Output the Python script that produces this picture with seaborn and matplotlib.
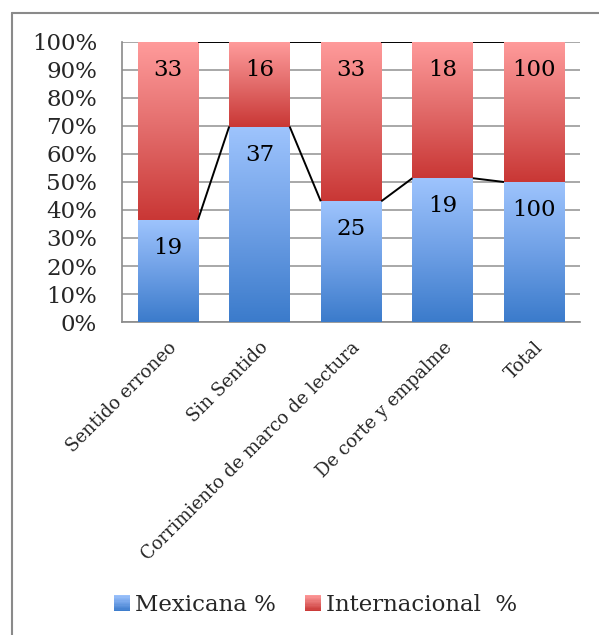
import numpy as np
import pandas as pd
import matplotlib
matplotlib.use("Agg")
import matplotlib.pyplot as plt
import matplotlib.transforms as mtransforms
import seaborn as sns
from matplotlib.colors import LinearSegmentedColormap
from matplotlib.lines import Line2D
from matplotlib.patches import Rectangle
from matplotlib.legend_handler import HandlerBase

# --- data -------------------------------------------------------------
categories = ["Sentido erroneo", "Sin Sentido", "Corrimiento de marco de lectura",
              "De corte y empalme", "Total"]
mexicana = [19, 37, 25, 19, 100]
internacional = [33, 16, 33, 18, 100]
y_ticks = list(range(0, 101, 10))
series_names = ["Mexicana %", "Internacional  %"]

df = pd.DataFrame({"categoria": categories,
                   "mexicana": mexicana,
                   "internacional": internacional})
df["total"] = df["mexicana"] + df["internacional"]
df["mex_pct"] = df["mexicana"] / df["total"] * 100
df["full"] = 100.0

# --- style ------------------------------------------------------------
sns.set_theme(style="white")
plt.rcParams["font.family"] = ["DejaVu Serif"]

blue_cmap = LinearSegmentedColormap.from_list("azul", ["#3b7bcb", "#6fa0e6", "#9ec4fd"])
red_cmap = LinearSegmentedColormap.from_list("rojo", ["#c93735", "#e26b6a", "#ff9b9b"])
grad = np.linspace(0, 1, 256).reshape(-1, 1)

fig = plt.figure(figsize=(5.99, 6.35), dpi=100)
ax = fig.add_axes([0.2037, 0.4929, 0.7646, 0.441])

bar_w = 0.66
sns.barplot(data=df, x="categoria", y="full", color="#e06060", width=bar_w,
            ax=ax, zorder=2)
sns.barplot(data=df, x="categoria", y="mex_pct", color="#6a9be0", width=bar_w,
            ax=ax, zorder=3)

n = len(df)
red_bars = ax.patches[:n]
blue_bars = ax.patches[n:2 * n]


def fill_gradient(patch, y0, y1, cmap, z):
    x0 = patch.get_x()
    x1 = x0 + patch.get_width()
    im = ax.imshow(grad, cmap=cmap, origin="lower", aspect="auto",
                   extent=[x0, x1, y0, y1], zorder=z, interpolation="bilinear")
    im.set_clip_path(patch)
    patch.set_facecolor("none")
    patch.set_edgecolor("none")


for i, (rp, bp) in enumerate(zip(red_bars, blue_bars)):
    pct = df["mex_pct"].iloc[i]
    fill_gradient(rp, pct, 100, red_cmap, 2)
    fill_gradient(bp, 0, pct, blue_cmap, 3)

# series lines joining the segments of neighbouring bars
for i in range(n - 1):
    xa = blue_bars[i].get_x() + blue_bars[i].get_width()
    xb = blue_bars[i + 1].get_x()
    ax.plot([xa, xb], [df["mex_pct"].iloc[i], df["mex_pct"].iloc[i + 1]],
            color="black", lw=1.4, zorder=5, solid_capstyle="butt")
    ax.plot([xa, xb], [100, 100], color="black", lw=1.4, zorder=5,
            solid_capstyle="butt")

# value labels near the top of each segment
for i in range(n):
    cx = blue_bars[i].get_x() + blue_bars[i].get_width() / 2
    ax.annotate(str(df["mexicana"].iloc[i]), (cx, df["mex_pct"].iloc[i]),
                xytext=(0, -28), textcoords="offset pixels",
                ha="center", va="center", fontsize=16.5, color="black", zorder=6)
    ax.annotate(str(df["internacional"].iloc[i]), (cx, 100),
                xytext=(0, -28), textcoords="offset pixels",
                ha="center", va="center", fontsize=16.5, color="black", zorder=6)

# axes
ax.set_xlim(-0.5, n - 0.5)
ax.set_ylim(0, 100)
ax.set_yticks(y_ticks)
ax.set_yticklabels([f"{t}%" for t in y_ticks], fontsize=16.5)
ax.yaxis.grid(True, color="#9a9a9a", lw=1.2, zorder=0)
ax.set_axisbelow(True)
ax.set_xlabel("")
ax.set_ylabel("")
ax.set_xticks(range(n))
ax.set_xticklabels(categories, rotation=45, ha="right", rotation_mode="anchor",
                   fontsize=13)
shift = mtransforms.ScaledTranslation(-4 / 100, 0, fig.dpi_scale_trans)
for lbl in ax.get_xticklabels():
    lbl.set_transform(lbl.get_transform() + shift)
ax.tick_params(axis="y", length=0, pad=18)
ax.tick_params(axis="x", length=0, pad=12)
for s in ["top", "right"]:
    ax.spines[s].set_visible(False)
for s in ["left", "bottom"]:
    ax.spines[s].set_color("#8a8a8a")
    ax.spines[s].set_linewidth(1.2)


# legend with small gradient squares
class GradientHandler(HandlerBase):
    def __init__(self, cmap):
        super().__init__()
        self.cmap = cmap

    def create_artists(self, legend, orig_handle, xdescent, ydescent,
                       width, height, fontsize, trans):
        size = height * 1.0
        x0 = -xdescent + (width - size)
        y0 = -ydescent + (height - size) / 2
        steps = 12
        arts = []
        for k in range(steps):
            c = self.cmap(1 - (k + 0.5) / steps)
            arts.append(Rectangle((x0, y0 + size - (k + 1) * size / steps),
                                  size, size / steps + 0.2, facecolor=c,
                                  edgecolor="none", transform=trans))
        return arts


h_blue = Rectangle((0, 0), 1, 1)
h_red = Rectangle((0, 0), 1, 1)
fig.legend([h_blue, h_red], series_names, loc="center",
           bbox_to_anchor=(0.527, 0.047), ncol=2, frameon=False,
           fontsize=16.5, handlelength=0.7, handleheight=0.7,
           handletextpad=0.2, columnspacing=1.3,
           handler_map={h_blue: GradientHandler(blue_cmap),
                        h_red: GradientHandler(red_cmap)})

# outer chart frame
fig.add_artist(Line2D([12 / 599, 12 / 599], [0, 1 - 13 / 635],
                      transform=fig.transFigure, color="#8a8a8a", lw=1.5))
fig.add_artist(Line2D([12 / 599, 1], [1 - 13 / 635, 1 - 13 / 635],
                      transform=fig.transFigure, color="#8a8a8a", lw=1.5))

fig.savefig("out.png", dpi=100)
